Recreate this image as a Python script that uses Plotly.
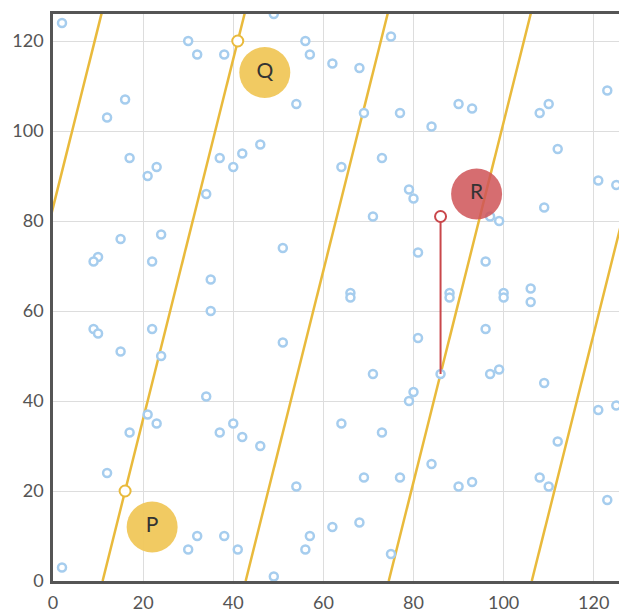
import plotly.graph_objects as go

# Curve points (x, y)
pts_x = [2, 30, 32, 38, 16, 12, 17, 23, 21, 24, 15, 10, 9, 22,
         49, 56, 57, 62, 54, 46, 42, 37, 40, 34, 51, 35,
         75, 68, 69, 77, 90, 93, 84, 73, 64, 79, 80, 71, 81, 66, 66, 88, 88, 100, 100, 106, 106,
         123, 110, 108, 112, 121, 125, 109, 97, 99, 96,
         9, 10, 22, 15, 24, 21, 23, 17, 12, 2, 30,
         35, 51, 34, 40, 37, 42, 46, 54, 32, 38, 41, 57, 56, 62, 49,
         81, 71, 86, 80, 79, 64, 73, 84, 69, 77, 90, 93, 68, 75,
         96, 97, 99, 109, 121, 125, 112, 108, 110, 123,
         16, 41, 86]
pts_y = [124, 120, 117, 117, 107, 103, 94, 92, 90, 77, 76, 72, 71, 71,
         126, 120, 117, 115, 106, 97, 95, 94, 92, 86, 74, 67,
         121, 114, 104, 104, 106, 105, 101, 94, 92, 87, 85, 81, 73, 64, 63, 64, 63, 64, 63, 65, 62,
         109, 106, 104, 96, 89, 88, 83, 81, 80, 71,
         56, 55, 56, 51, 50, 37, 35, 33, 24, 3, 7,
         60, 53, 41, 35, 33, 32, 30, 21, 10, 10, 7, 10, 7, 12, 1,
         54, 46, 46, 42, 40, 35, 33, 26, 23, 23, 21, 22, 13, 6,
         56, 46, 47, 44, 38, 39, 31, 23, 21, 18,
         20, 120, 81]

# Wrapped line through P and Q: segment endpoints (x at y=0, x at y=127)
line_x0 = [-20.75, 11, 42.75, 74.5, 106.25]
line_x1 = [11, 42.75, 74.5, 106.25, 138]
line_y0 = 0
line_y1 = 127

# Highlighted points
pq_x = [16, 41]
pq_y = [20, 120]
third_x = [86, 86]
third_y = [46, 81]

# Labels
lab_pq_x = [22, 47]
lab_pq_y = [12, 113]
lab_pq_text = ["P", "Q"]
lab_r_x = [94]
lab_r_y = [86]
lab_r_text = ["R"]

x_ticks = [0, 20, 40, 60, 80, 100, 120]
y_ticks = [0, 20, 40, 60, 80, 100, 120]

YELLOW = "#e9ba3c"
BLUE = "#a6cdee"
RED = "#c9474b"

fig = go.Figure()

lx, ly = [], []
for a, b in zip(line_x0, line_x1):
    lx += [a, b, None]
    ly += [line_y0, line_y1, None]
fig.add_trace(go.Scatter(x=lx, y=ly, mode="lines",
                         line=dict(color=YELLOW, width=2.5), hoverinfo="skip"))

fig.add_trace(go.Scatter(x=pts_x, y=pts_y, mode="markers",
                         marker=dict(size=8, color="white",
                                     line=dict(color=BLUE, width=2.5))))

fig.add_trace(go.Scatter(x=third_x, y=third_y, mode="lines",
                         line=dict(color=RED, width=2)))

fig.add_trace(go.Scatter(x=pq_x, y=pq_y, mode="markers",
                         marker=dict(size=11, color="white",
                                     line=dict(color=YELLOW, width=2))))
fig.add_trace(go.Scatter(x=[third_x[1]], y=[third_y[1]], mode="markers",
                         marker=dict(size=11, color="white",
                                     line=dict(color=RED, width=2))))

fig.add_trace(go.Scatter(x=lab_pq_x, y=lab_pq_y, mode="markers+text",
                         text=lab_pq_text, textposition="middle center",
                         textfont=dict(family="Lato", size=21, color="#333"),
                         marker=dict(size=51, color="#f0c75a", opacity=0.95)))
fig.add_trace(go.Scatter(x=lab_r_x, y=lab_r_y, mode="markers+text",
                         text=lab_r_text, textposition="middle center",
                         textfont=dict(family="Lato", size=21, color="#333"),
                         marker=dict(size=51, color="#cf5357", opacity=0.85)))

fig.update_layout(
    width=619, height=614,
    margin=dict(l=53, r=0, t=14, b=33),
    paper_bgcolor="white", plot_bgcolor="white",
    showlegend=False,
    font=dict(family="Lato", size=18, color="#555"),
)
fig.update_xaxes(range=[0, 125.6], tickvals=x_ticks, showgrid=True,
                 gridcolor="#dddddd", gridwidth=1, zeroline=False,
                 showline=True, linecolor="#555", linewidth=2.5, mirror=True,
                 ticks="outside", ticklen=4, tickcolor="rgba(0,0,0,0)")
fig.update_yaxes(range=[0, 126], tickvals=y_ticks, showgrid=True,
                 gridcolor="#dddddd", gridwidth=1, zeroline=False,
                 showline=True, linecolor="#555", linewidth=2.5, mirror=False,
                 ticks="outside", ticklen=3, tickcolor="rgba(0,0,0,0)")

fig.write_html("out.html",
               config={"displayModeBar": False},
               post_script="document.body.style.margin='0';"
                           "document.body.style.overflow='hidden';")
